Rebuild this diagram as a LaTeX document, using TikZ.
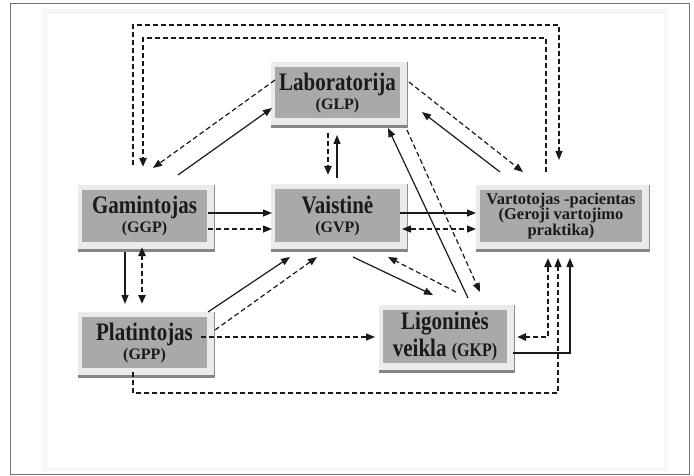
\documentclass[tikz,border=0pt]{standalone}
\usepackage{fontspec}
\setmainfont{Liberation Serif}
\usetikzlibrary{arrows.meta,calc,backgrounds}
\pgfdeclarelayer{page}
\pgfsetlayers{page,background,main}
\definecolor{boxgray}{HTML}{A9A9A9}
\definecolor{framegray}{HTML}{EBEBEB}
\definecolor{shadowgray}{HTML}{858585}
\definecolor{txt}{HTML}{1A1A1A}
\definecolor{ink}{HTML}{1A1A1A}
\newcommand{\tallline}[1]{\scalebox{1}[1.2]{#1}}
\tikzset{
  box/.style={rectangle, fill=boxgray, inner sep=0pt, outer sep=0pt,
    align=center, text=txt, font=\bfseries\fontsize{21}{21}\selectfont},
  flow/.style={draw=ink, line width=1.2pt, -{Triangle[length=9pt,width=7pt]}},
  backflow/.style={draw=ink, line width=1.2pt, {Triangle[length=9pt,width=7pt]}-{Triangle[length=9pt,width=7pt]}},
  dashline/.style={dash pattern=on 5pt off 3pt},
  thickdash/.style={line width=2.2pt, dash pattern=on 5pt off 3pt},
}
\begin{document}
\begin{tikzpicture}[x=1pt,y=-1pt]
\useasboundingbox (0,0) rectangle (694,476);
% page frame and faint panel
\begin{pgfonlayer}{page}
\fill[white] (0,0) rectangle (694,476);
\fill[black!3] (42,9) rectangle (668,471);
\fill[white] (48,14) rectangle (664,468);
\draw[black!55, line width=1.5pt] (10.5,3.5) rectangle (689.5,474.5);
\end{pgfonlayer}

% boxes
\node[box, minimum width=125pt, minimum height=51pt] (lab) at (337.5,92.5)
  {\tallline{Laboratorija}\\[-2pt]{\fontsize{16}{16}\selectfont (GLP)}};
\node[box, minimum width=125pt, minimum height=52pt] (gam) at (144.5,216)
  {\tallline{Gamintojas}\\[-2pt]{\fontsize{16}{16}\selectfont (GGP)}};
\node[box, minimum width=125pt, minimum height=53pt] (vai) at (337.5,215.5)
  {\tallline{Vaistinė}\\[-2pt]{\fontsize{16}{16}\selectfont (GVP)}};
\node[box, minimum width=162pt, minimum height=52pt,
      font=\bfseries\fontsize{16.5}{15.5}\selectfont] (var) at (561,216)
  {Vartotojas -pacientas\\(Geroji vartojimo\\praktika)};
\node[box, minimum width=125pt, minimum height=51pt] (pla) at (144.5,342.5)
  {\tallline{Platintojas}\\[-2pt]{\fontsize{16}{16}\selectfont (GPP)}};
\node[box, minimum width=124pt, minimum height=53pt] (lig) at (445,336.5)
  {\tallline{Ligoninės}\\[3pt]\tallline{veikla {\fontsize{16}{16}\selectfont(GKP)}}};

% light frames with a dark bottom strip behind every box
\begin{scope}[on background layer]
\foreach \n in {lab,gam,vai,var,pla,lig}{
  \fill[framegray] ($(\n.north west)+(-4,-5)$) rectangle ($(\n.south east)+(7,10)$);
  \fill[shadowgray] ($(\n.south west)+(-4,7)$) rectangle ($(\n.south east)+(7,10)$);
  \draw[black!45, line width=0.8pt] ($(\n.north east)+(7,-5)$) -- ($(\n.south east)+(7,10)$);
}
\end{scope}

% outer loops over the top
\draw[flow, dashline] ($(gam.north)+(-11.5,-25)$) -- ++(0,-140) -| ($(var.north)+(-2,-30)$);
\draw[flow, thickdash] ($(var.north)+(-15,-18)$) -- ++(0,-134) -| ($(gam.north)+(-1.5,-23)$);

% laboratory links
\draw[flow, dashline] ($(lab.west)+(0,-12.5)$) -- ($(gam.north)+(8.5,-22)$);
\draw[flow] ($(gam.north)+(33.5,-15)$) -- ($(lab.west)+(-3,15.5)$);
\draw[flow, thickdash] ($(lab.south)+(-9.5,15)$) -- ($(vai.north)+(-9.5,-14)$);
\draw[flow] ($(vai.north)+(-0.5,-11)$) -- ($(lab.south)+(-0.5,17)$);
\draw[flow, dashline] ($(lab.east)+(9,-10.5)$) -- ($(var.north)+(-38,-18)$);
\draw[flow] ($(var.north)+(-61,-18)$) -- ($(lab.east)+(22,19.5)$);
\draw[flow] ($(lig.north)+(23,-12)$) -- ($(lab.south)+(50.5,10)$);
\draw[flow, dashline] ($(lab.south)+(69.5,12)$) -- ($(lig.north)+(35,-18)$);

% middle row
\draw[flow] ($(gam.east)+(1,-3)$) -- ($(vai.west)+(-3,-2.5)$);
\draw[flow, dashline] ($(gam.east)+(1,13)$) -- ($(vai.west)+(-3,13.5)$);
\draw[flow] ($(vai.east)+(0,-2.5)$) -- ($(var.west)+(-4,-3)$);
\draw[backflow, dashline] ($(vai.east)+(2,13.5)$) -- ($(var.west)+(-4,13)$);

% producer and distributor
\draw[flow] ($(gam.south)+(-19.5,10)$) -- ($(pla.north)+(-19.5,-13)$);
\draw[backflow, thickdash] ($(gam.south)+(-2.5,5)$) -- ($(pla.north)+(-2.5,-13)$);
\draw[flow] ($(pla.east)+(1,-30.5)$) -- ($(vai.south)+(-47.5,15)$);
\draw[flow, dashline] ($(pla.east)+(8,-12.5)$) -- ($(vai.south)+(-20.5,15)$);
\draw[flow, dashline] ($(pla.east)+(-6,-5.5)$) -- ($(lig.west)+(-8,0.5)$);

% pharmacy and hospital
\draw[flow] ($(vai.south)+(15.5,15)$) -- ($(lig.north)+(-12,-15)$);
\draw[flow, dashline] ($(lig.north)+(11,-18)$) -- ($(vai.south)+(50.5,15)$);

% links into the consumer from below
\draw[backflow, thickdash] ($(lig.east)+(10,0.5)$) -| ($(var.south)+(-13,16)$);
\draw[flow] ($(lig.east)+(6,16.5)$) -| ($(var.south)+(9,16)$);
\draw[flow, dashline] ($(pla.south)+(-11.5,4)$) -- ++(0,21) -| ($(var.south)+(-3,16)$);
\end{tikzpicture}
\end{document}
